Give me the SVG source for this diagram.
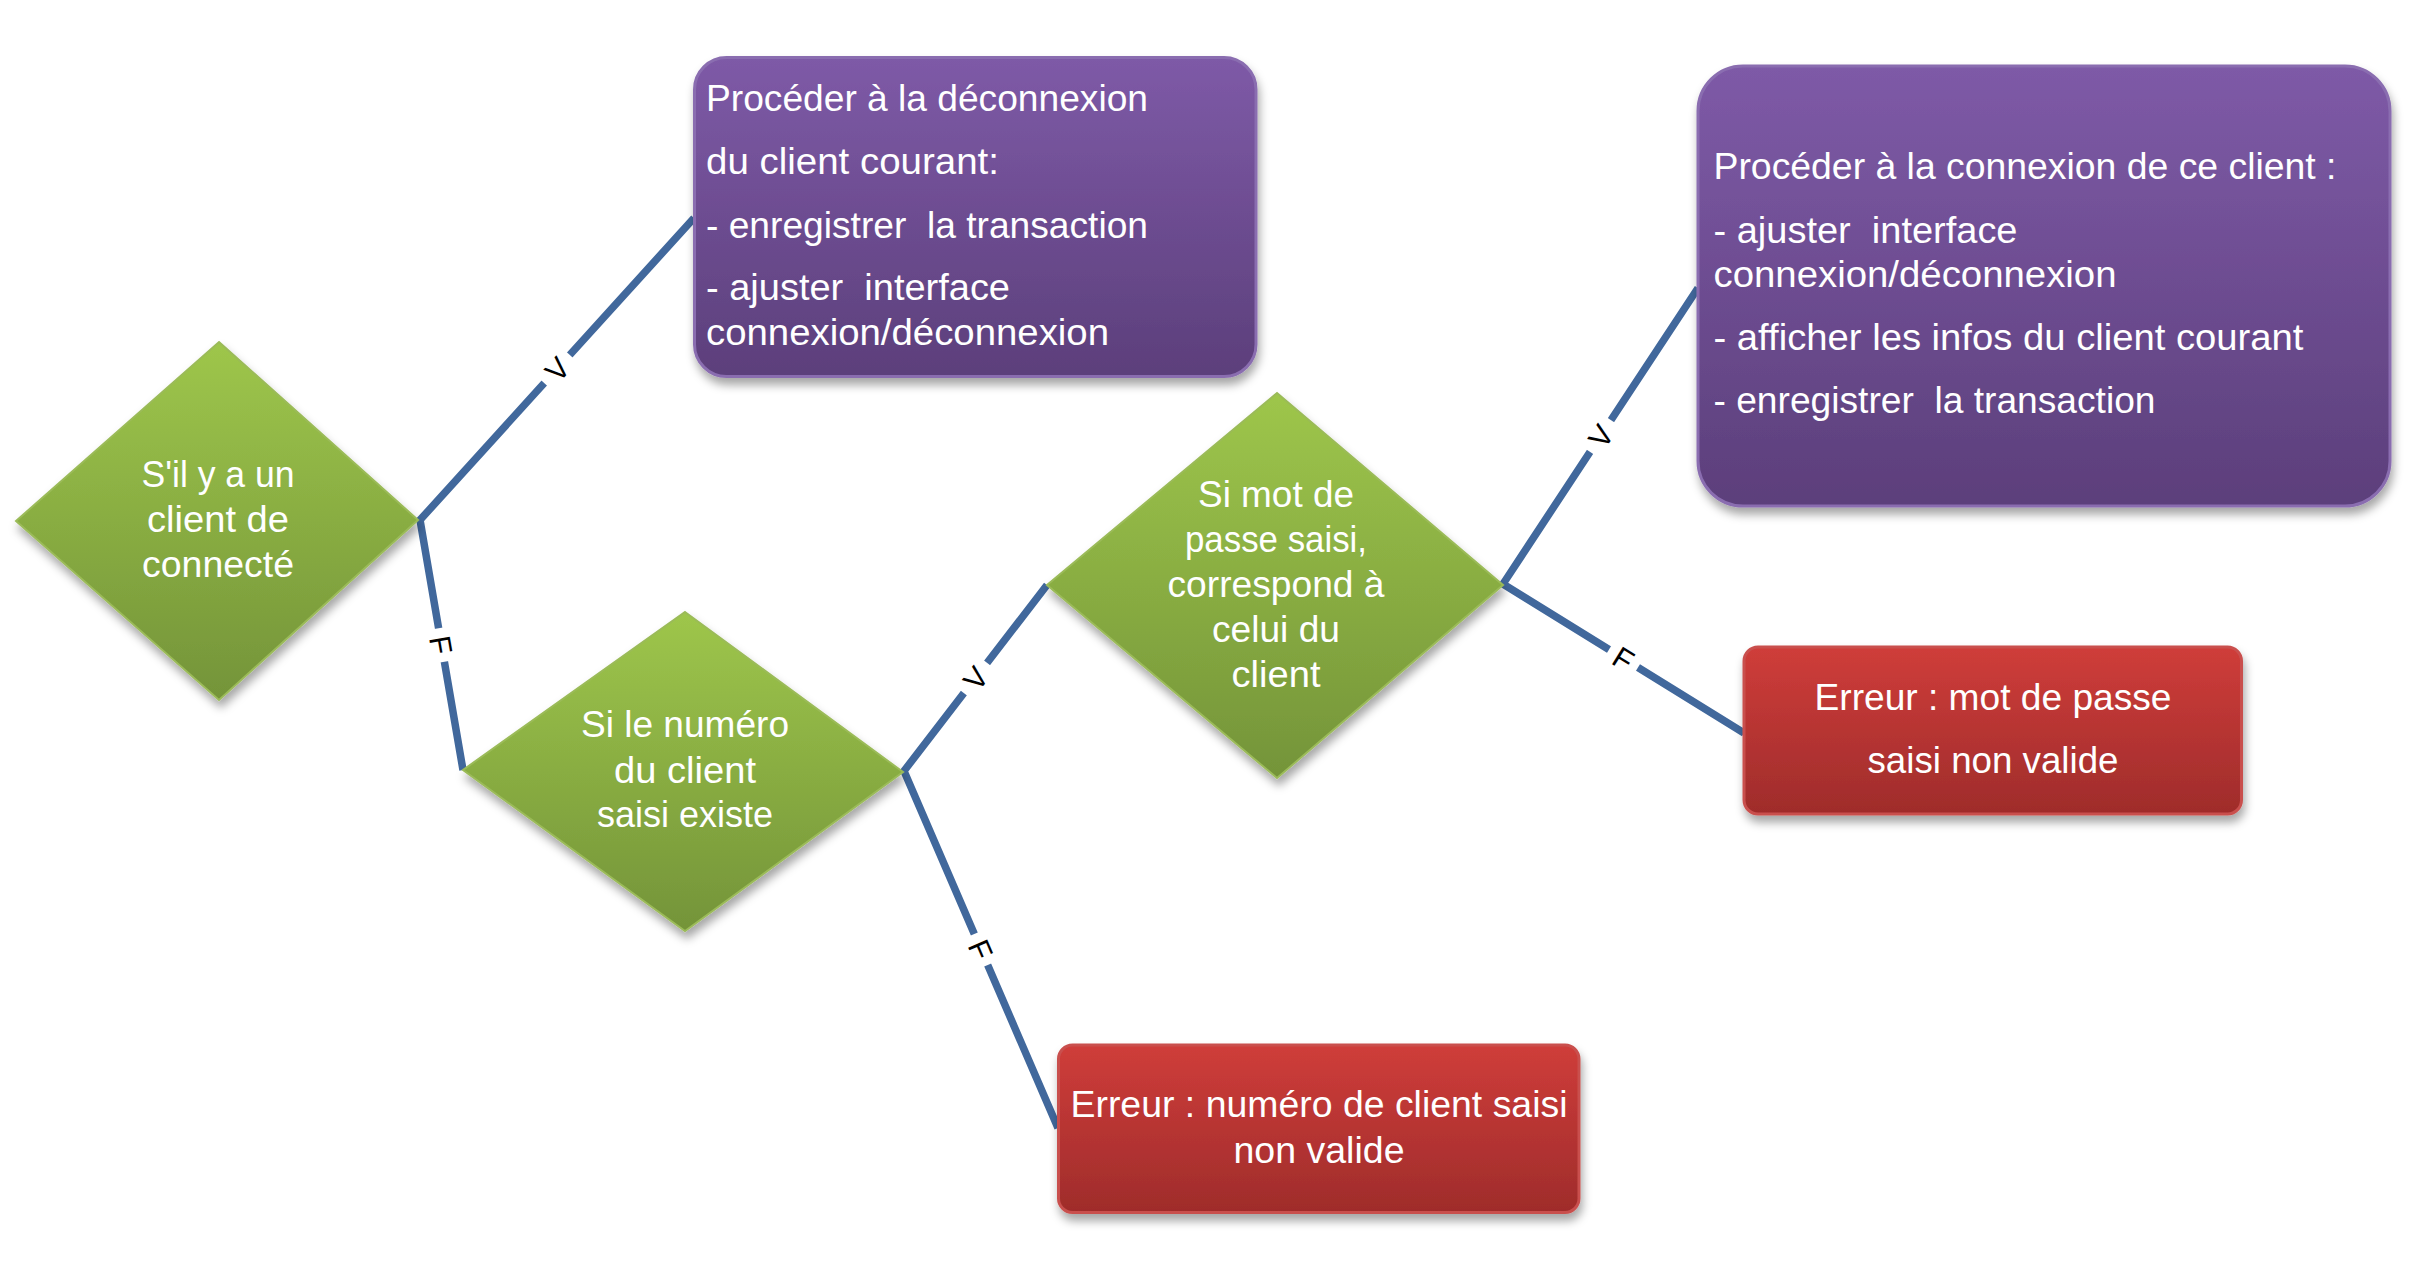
<svg xmlns="http://www.w3.org/2000/svg" width="2412" height="1262" viewBox="0 0 2412 1262">
<defs>
<linearGradient id="gGreen" x1="0" y1="0" x2="0" y2="1"><stop offset="0" stop-color="#9EC64B"/><stop offset="1" stop-color="#749439"/></linearGradient>
<linearGradient id="gPurple" x1="0" y1="0" x2="0" y2="1"><stop offset="0" stop-color="#7E5AA7"/><stop offset="1" stop-color="#5C3F7B"/></linearGradient>
<linearGradient id="gRed" x1="0" y1="0" x2="0" y2="1"><stop offset="0" stop-color="#CF3D3A"/><stop offset="1" stop-color="#9F2C2B"/></linearGradient>
<filter id="sh" x="-10%" y="-10%" width="125%" height="130%"><feDropShadow dx="2" dy="7" stdDeviation="5" flood-color="#000" flood-opacity="0.35"/></filter>
</defs>
<style>
.dia{fill:url(#gGreen);stroke:#9BBB59;stroke-width:2;filter:url(#sh)}
.pur{fill:url(#gPurple);stroke:#8A6DB0;stroke-width:3;filter:url(#sh)}
.red{fill:url(#gRed);stroke:#C9504D;stroke-width:3;filter:url(#sh)}
.t{font-family:"Liberation Sans",Arial,sans-serif;font-size:36px;fill:#FFFFFF;white-space:pre}
.c{text-anchor:middle}
.ln{stroke:#41689C;stroke-width:7.5;fill:none;stroke-linecap:butt}
.lb{font-family:"Liberation Sans",Arial,sans-serif;font-size:30px;fill:#000;text-anchor:middle}
.lbg{fill:#FFFFFF}
</style>
<rect width="2412" height="1262" fill="#FFFFFF"/>
<g id="connectors">
<polyline class="ln" points="694,218 420,520 463,770"/>
<polyline class="ln" points="1047,585 904,771 1058,1128"/>
<polyline class="ln" points="1698,288 1503,584 1744,733"/>
<g transform="translate(557,369) rotate(-48)"><rect class="lbg" x="-19" y="-12" width="38" height="24"/><text class="lb" y="11">V</text></g>
<g transform="translate(441.5,645) rotate(80.2)"><rect class="lbg" x="-17" y="-12" width="34" height="24"/><text class="lb" y="11">F</text></g>
<g transform="translate(975.5,678) rotate(-52.4)"><rect class="lbg" x="-19" y="-12" width="38" height="24"/><text class="lb" y="11">V</text></g>
<g transform="translate(981,949.5) rotate(66.7)"><rect class="lbg" x="-17" y="-12" width="34" height="24"/><text class="lb" y="11">F</text></g>
<g transform="translate(1600.5,436) rotate(-56.6)"><rect class="lbg" x="-19" y="-12" width="38" height="24"/><text class="lb" y="11">V</text></g>
<g transform="translate(1623.5,658.5) rotate(31.7)"><rect class="lbg" x="-17" y="-12" width="34" height="24"/><text class="lb" y="11">F</text></g>
</g>
<g id="d1">
<polygon class="dia" points="219,342 418,520 219,700 16,521"/>
<text class="t c" x="218" y="487" textLength="153" lengthAdjust="spacingAndGlyphs">S'il y a un</text>
<text class="t c" x="218" y="532" textLength="142" lengthAdjust="spacingAndGlyphs">client de</text>
<text class="t c" x="218" y="577" textLength="152" lengthAdjust="spacingAndGlyphs">connecté</text>
</g>
<g id="d2">
<polygon class="dia" points="685,612 903,772 685,931 463,770"/>
<text class="t c" x="685" y="737" textLength="208" lengthAdjust="spacingAndGlyphs">Si le numéro</text>
<text class="t c" x="685" y="783" textLength="142" lengthAdjust="spacingAndGlyphs">du client</text>
<text class="t c" x="685" y="827" textLength="176" lengthAdjust="spacingAndGlyphs">saisi existe</text>
</g>
<g id="d3">
<polygon class="dia" points="1277,393 1503,585 1277,778 1047,585"/>
<text class="t c" x="1276" y="507" textLength="156" lengthAdjust="spacingAndGlyphs">Si mot de</text>
<text class="t c" x="1276" y="552" textLength="182" lengthAdjust="spacingAndGlyphs">passe saisi,</text>
<text class="t c" x="1276" y="597" textLength="217" lengthAdjust="spacingAndGlyphs">correspond à</text>
<text class="t c" x="1276" y="642" textLength="128" lengthAdjust="spacingAndGlyphs">celui du</text>
<text class="t c" x="1276" y="687" textLength="89" lengthAdjust="spacingAndGlyphs">client</text>
</g>
<g id="box1">
<rect class="pur" x="694.5" y="57.5" width="561.5" height="319" rx="32" ry="32"/>
<text class="t" x="706" y="111" textLength="442" lengthAdjust="spacingAndGlyphs">Procéder à la déconnexion</text>
<text class="t" x="706" y="174" textLength="293" lengthAdjust="spacingAndGlyphs">du client courant:</text>
<text class="t" x="706" y="238" textLength="442" lengthAdjust="spacingAndGlyphs" xml:space="preserve">- enregistrer  la transaction</text>
<text class="t" x="706" y="300" textLength="304" lengthAdjust="spacingAndGlyphs" xml:space="preserve">- ajuster  interface</text>
<text class="t" x="706" y="345" textLength="403" lengthAdjust="spacingAndGlyphs">connexion/déconnexion</text>
</g>
<g id="box2">
<rect class="pur" x="1698" y="66" width="692" height="440" rx="45" ry="45"/>
<text class="t" x="1713.5" y="179" textLength="623" lengthAdjust="spacingAndGlyphs">Procéder à la connexion de ce client :</text>
<text class="t" x="1713.5" y="243" textLength="304" lengthAdjust="spacingAndGlyphs" xml:space="preserve">- ajuster  interface</text>
<text class="t" x="1713.5" y="287" textLength="403" lengthAdjust="spacingAndGlyphs">connexion/déconnexion</text>
<text class="t" x="1713.5" y="350" textLength="590" lengthAdjust="spacingAndGlyphs">- afficher les infos du client courant</text>
<text class="t" x="1713.5" y="413" textLength="442" lengthAdjust="spacingAndGlyphs" xml:space="preserve">- enregistrer  la transaction</text>
</g>
<g id="err1">
<rect class="red" x="1058.5" y="1045" width="520.5" height="167.5" rx="14" ry="14"/>
<text class="t c" x="1319" y="1117" textLength="497" lengthAdjust="spacingAndGlyphs">Erreur : numéro de client saisi</text>
<text class="t c" x="1319" y="1163" textLength="171" lengthAdjust="spacingAndGlyphs">non valide</text>
</g>
<g id="err2">
<rect class="red" x="1744" y="647" width="497.5" height="167" rx="14" ry="14"/>
<text class="t c" x="1993" y="710" textLength="357" lengthAdjust="spacingAndGlyphs">Erreur : mot de passe</text>
<text class="t c" x="1993" y="773" textLength="251" lengthAdjust="spacingAndGlyphs">saisi non valide</text>
</g>
</svg>
